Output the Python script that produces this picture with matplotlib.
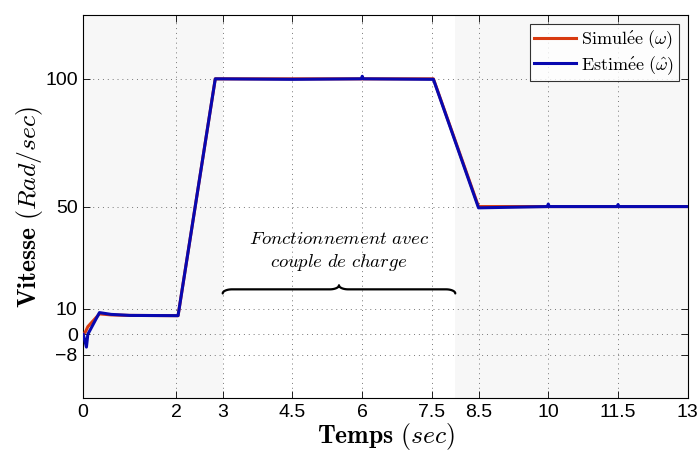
import numpy as np
import matplotlib
matplotlib.use("Agg")
import matplotlib.pyplot as plt

plt.rcParams['mathtext.fontset'] = 'cm'
plt.rcParams['font.family'] = ['Liberation Sans', 'DejaVu Sans']

# Data
t_sim = [0, 0.05, 0.1, 0.35, 0.6, 1.0, 2.04, 2.84, 7.53, 8.5, 13]
w_sim = [0, 1, 3, 8, 7.6, 7.4, 7.3, 100, 100, 50, 50]

t_est = [0, 0.03, 0.07, 0.1, 0.35, 0.6, 1.0, 2.04, 2.84, 4.5, 5.98, 6.0, 6.02,
         7.53, 8.5, 9.98, 10.0, 10.02, 11.48, 11.5, 11.52, 13]
w_est = [0, -2, -5, 0, 8.5, 7.8, 7.4, 7.3, 100, 99.8, 100, 101, 100,
         99.8, 49.5, 50, 51, 50, 50, 50.8, 50, 50]

xticks = [0, 2, 3, 4.5, 6, 7.5, 8.5, 10, 11.5, 13]
xticklabels = ['0', '2', '3', '4.5', '6', '7.5', '8.5', '10', '11.5', '13']
yticks = [-8, 0, 10, 50, 100]
yticklabels = ['\u22128', '0', '10', '50', '100']
load_start, load_end = 3, 8

fig = plt.figure(figsize=(6.99, 4.53), dpi=100)
ax = fig.add_axes([0.119, 0.121, 0.865, 0.846])
ax.set_facecolor('#f7f7f7')
ax.axvspan(load_start, load_end, color='white', zorder=0, lw=0)

ax.plot(t_sim, w_sim, color='#d83a10', lw=2.2, label=r'$\mathrm{Simul\acute{e}e}\ (\omega)$', zorder=3)
ax.plot(t_est, w_est, color='#0808b0', lw=2.2, label=r'$\mathrm{Estim\acute{e}e}\ (\hat{\omega})$', zorder=4)

ax.set_xlim(0, 13)
ax.set_ylim(-25, 125)
ax.set_xticks(xticks)
ax.set_xticklabels(xticklabels)
ax.set_yticks(yticks)
ax.set_yticklabels(yticklabels)
ax.tick_params(direction='in', top=True, right=True, labelsize=14, length=5, width=0.6, pad=4)
ax.grid(True, linestyle=(0, (1, 4)), color='#777777', lw=0.7)
for s in ax.spines.values():
    s.set_linewidth(0.8)

ax.set_xlabel(r'$\mathbf{Temps}\ (sec)$', fontsize=18.5, labelpad=0)
ax.set_ylabel(r'$\mathbf{Vitesse}\ (Rad/sec)$', fontsize=18.5, labelpad=0)

leg = ax.legend(loc='upper right', fontsize=13, frameon=True, fancybox=False,
                edgecolor='black', handlelength=2.3, borderpad=0.25, labelspacing=0.15,
                handletextpad=0.3, borderaxespad=0.5)
leg.get_frame().set_linewidth(0.8)

# annotation text
ax.text(5.5, 37, r'$\mathit{Fonctionnement\ avec}$', ha='center', va='center', fontsize=13.5)
ax.text(5.5, 28, r'$\mathit{couple\ de\ charge}$', ha='center', va='center', fontsize=13.5)

# curly brace
def brace(x0, x1, y, h, ax):
    xm = (x0 + x1) / 2
    r = 0.2
    xs, ys = [], []
    th = np.linspace(np.pi, np.pi / 2, 20)
    xs += list(x0 + r + r * np.cos(th)); ys += list(y - h + h * np.sin(th))
    th = np.linspace(-np.pi / 2, 0, 20)
    xs += list(xm - r + r * np.cos(th)); ys += list(y + h + h * np.sin(th))
    th = np.linspace(np.pi, np.pi * 1.5, 20)
    xs += list(xm + r + r * np.cos(th)); ys += list(y + h + h * np.sin(th))
    th = np.linspace(np.pi / 2, 0, 20)
    xs += list(x1 - r + r * np.cos(th)); ys += list(y - h + h * np.sin(th))
    ax.plot(xs, ys, color='black', lw=1.6, zorder=5, solid_capstyle='round')

brace(load_start, load_end, 17.6, 1.6, ax)

fig.savefig('out.png', dpi=100)
